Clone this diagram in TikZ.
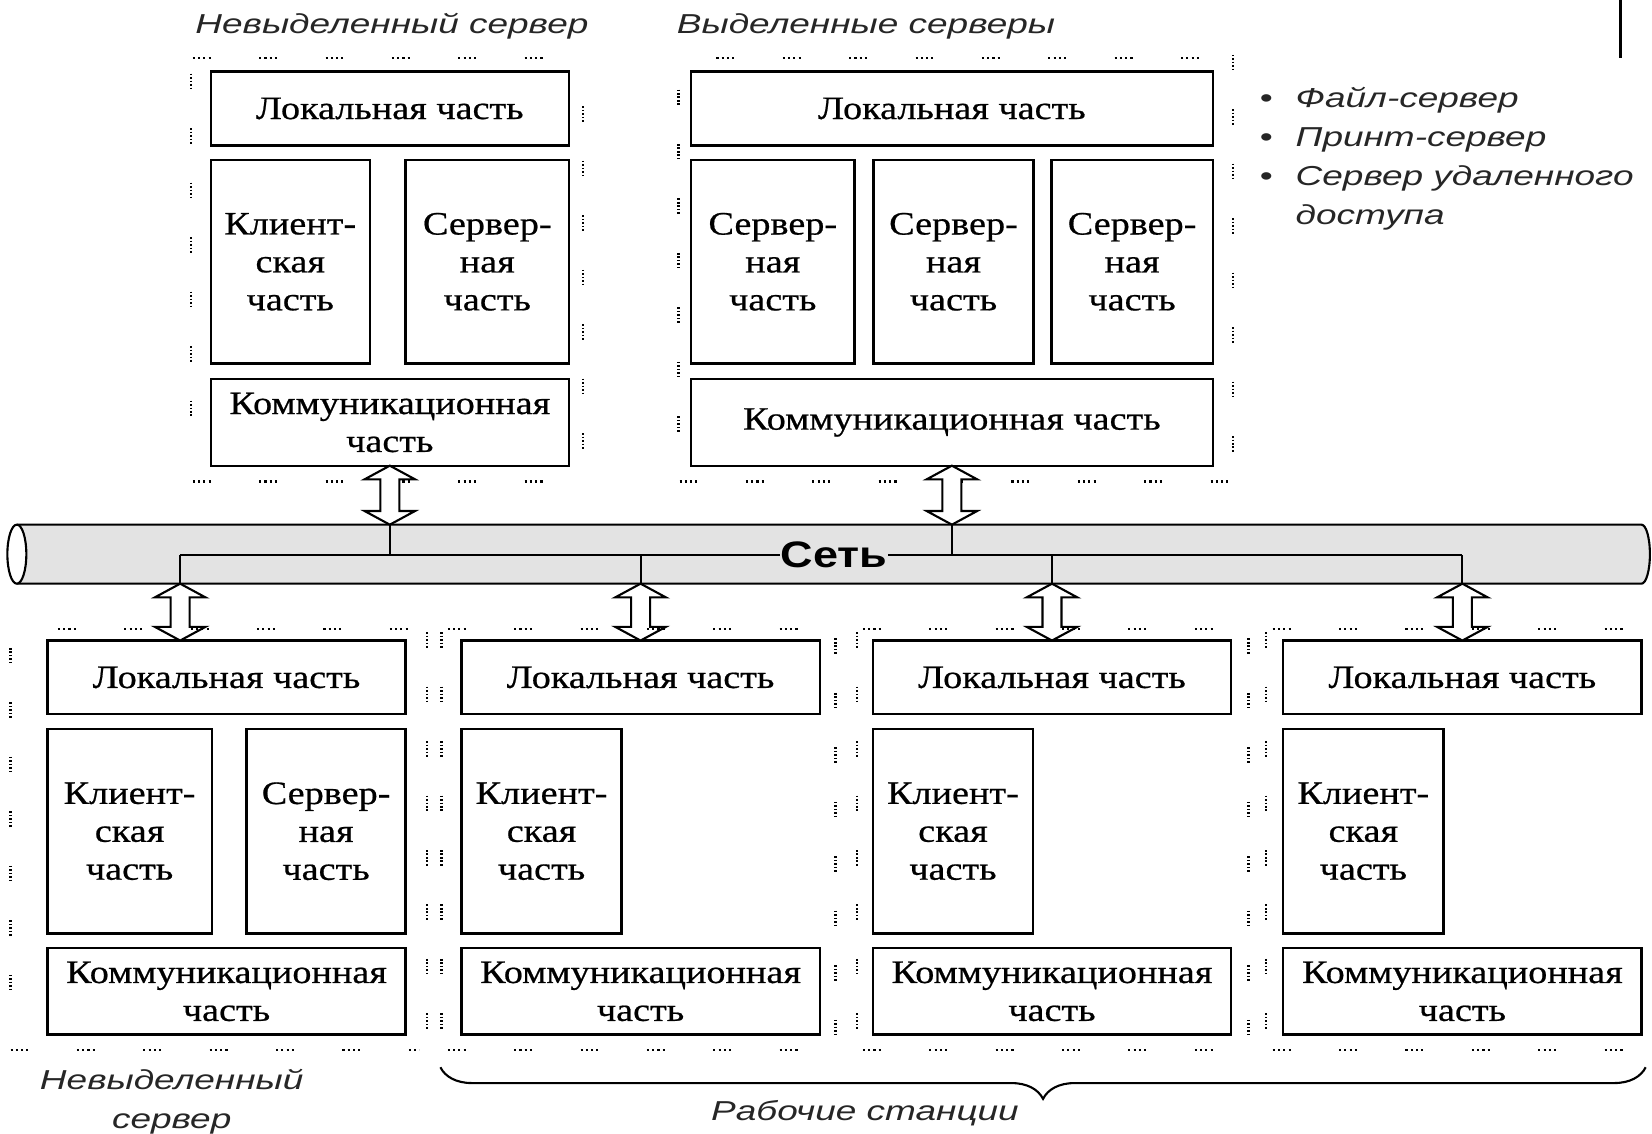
\documentclass[tikz,border=0pt]{standalone}
\usepackage{fontspec}
\newfontfamily\boxfont{Liberation Serif}[FakeStretch=1.17,FakeBold=0.6]
\newfontfamily\lblfont{Liberation Sans}[FakeStretch=1.35]
\newfontfamily\netfont{Liberation Sans}[FakeStretch=1.22]
\usetikzlibrary{calc,decorations.pathreplacing}
\definecolor{pipegray}{RGB}{227,227,227}

% hollow double arrow between a top point #1 and a bottom point #2
\newcommand{\dblarrow}[2]{%
  \draw[arrowline] (#1) -- ($(#1)+(24,-13)$) -- ($(#1)+(9,-13)$) -- ($(#2)+(9,13)$) -- ($(#2)+(24,13)$)
    -- (#2) -- ($(#2)+(-24,13)$) -- ($(#2)+(-9,13)$) -- ($(#1)+(-9,-13)$) -- ($(#1)+(-24,-13)$) -- cycle;}

\begin{document}
\begin{tikzpicture}[x=1pt,y=1pt,
    part/.style={draw=black, line width=2.2pt, inner sep=0pt, outer sep=0pt, align=center,
      font=\boxfont\fontsize{31}{36}\selectfont},
    lbl/.style={align=center, text=black!85, font=\lblfont\itshape\fontsize{26}{37}\selectfont},
    arrowline/.style={draw=black, line width=2pt, fill=white, line join=miter},
    hdots/.style={line width=2pt, dash pattern=on 2pt off 3pt on 2pt off 3pt on 2pt off 3pt on 2pt off 46pt},
    vdots/.style={line width=2pt, dash pattern=on 1.5pt off 1.8pt on 1.5pt off 1.8pt on 1.5pt off 1.8pt on 1.5pt off 1.8pt on 1.5pt off 37pt}]
  \useasboundingbox (0,0) rectangle (1568,1076);

  % headings
  \node[lbl] (hdrA) at (372,1051) {Невыделенный сервер};
  \node[lbl] (hdrB) at (822,1051) {Выделенные серверы};
  \draw[line width=3pt] (1538,1076) -- (1538,1021);
  \node[lbl, anchor=west, align=left] (roles) at (1192,925)
    {\textbullet\hspace{22pt}Файл-сервер\\
     \textbullet\hspace{22pt}Принт-сервер\\
     \textbullet\hspace{22pt}Сервер удаленного\\
     \hphantom{\textbullet\hspace{22pt}}доступа};

  % non-dedicated server (top)
  \node[part, minimum width=340, minimum height=70] (locA) at (370,973) {Локальная часть};
  \node[part, minimum width=151, minimum height=193] (cliA) at (275.5,827.5) {Клиент-\\ская\\часть};
  \node[part, minimum width=155, minimum height=193] (srvA) at (462.5,827.5) {Сервер-\\ная\\часть};
  \node[part, minimum width=340, minimum height=82] (comA) at (370,675) {Коммуникационная\\часть};

  % dedicated servers
  \node[part, minimum width=495, minimum height=70] (locB) at (903.5,973) {Локальная часть};
  \node[part, minimum width=155, minimum height=193] (srvB1) at (733.5,827.5) {Сервер-\\ная\\часть};
  \node[part, minimum width=152, minimum height=193] (srvB2) at (905,827.5) {Сервер-\\ная\\часть};
  \node[part, minimum width=153, minimum height=193] (srvB3) at (1074.5,827.5) {Сервер-\\ная\\часть};
  \node[part, minimum width=495, minimum height=82] (comB) at (903.5,675) {Коммуникационная часть};

  % dotted frames, top
  \draw[hdots] (183,1021) -- (556,1021);
  \draw[hdots] (183,619) -- (556,619);
  \draw[vdots] (181,1006) -- (181,655);
  \draw[vdots] (553,975) -- (553,625);
  \draw[hdots] (680,1021) -- (1166,1021);
  \draw[hdots] (645,619) -- (1166,619);
  \draw[vdots] (644,991) -- (644,635);
  \draw[vdots] (1170,1024) -- (1170,615);

  % network pipe
  \draw[line width=2pt, fill=pipegray] (16,578) -- (1558,578)
    arc[start angle=90, end angle=-90, x radius=8, y radius=28] -- (16,522);
  \draw[line width=2pt, fill=white] (16,550) ellipse[x radius=9, y radius=28];
  \coordinate (busL) at (171,549);
  \coordinate (busR) at (1388,549);
  \coordinate (pA) at (370,578);
  \coordinate (pB) at (903.5,578);
  \draw[line width=2pt] (busL) -- node[pos=0.51, fill=pipegray, inner xsep=1pt, inner ysep=0pt,
    font=\netfont\bfseries\fontsize{35}{40}\selectfont] (net) {Сеть} (busR);
  \draw[line width=2pt] (pA) -- (pA |- busL);
  \draw[line width=2pt] (pB) -- (pB |- busL);
  \dblarrow{comA.south}{pA}
  \dblarrow{comB.south}{pB}

  % non-dedicated server (bottom)
  \node[part, minimum width=340, minimum height=70] (locC) at (215,433) {Локальная часть};
  \node[part, minimum width=156, minimum height=194] (cliC) at (123,287) {Клиент-\\ская\\часть};
  \node[part, minimum width=151, minimum height=194] (srvC) at (309.5,287) {Сервер-\\ная\\часть};
  \node[part, minimum width=340, minimum height=82] (comC) at (215,135) {Коммуникационная\\часть};
  \coordinate (pC) at (171,522);
  \coordinate (tC) at (pC |- locC.north);
  \draw[line width=2pt] (pC) -- (busL);
  \dblarrow{pC}{tC}
  \draw[hdots] (55,479) -- (398,479);
  \draw[hdots] (10,79) -- (398,79);
  \draw[vdots] (10,461) -- (10,105);
  \draw[vdots] (405,476) -- (405,79);

  % workstations
  \foreach \g/\x/\l/\r in {D/608/419/793, E/998.5/813/1185, F/1388/1202/1568} {
    \node[part, minimum width=340, minimum height=70] (loc\g) at (\x,433) {Локальная часть};
    \node[part, minimum width=152, minimum height=194] (cli\g) at (\x-94,287) {Клиент-\\ская\\часть};
    \node[part, minimum width=340, minimum height=82] (com\g) at (\x,135) {Коммуникационная\\часть};
    \coordinate (p\g) at (\x,522);
    \draw[line width=2pt] (p\g) -- (p\g |- busL);
    \dblarrow{p\g}{loc\g.north}
    \draw[hdots] (\l+6,479) -- (\r,479);
    \draw[hdots] (\l+6,79) -- (\r,79);
    \draw[vdots] (\l,476) -- (\l,79);
  }
  \draw[vdots] (793,470) -- (793,85);
  \draw[vdots] (1185,470) -- (1185,85);

  % labels below
  \draw[line width=2pt, decorate, decoration={brace, mirror, amplitude=30pt}] (418,63) -- (1562,63);
  \node[lbl] (hdrC) at (163,30) {Невыделенный\\сервер};
  \node[lbl] (hdrD) at (821,19) {Рабочие станции};
\end{tikzpicture}
\end{document}
